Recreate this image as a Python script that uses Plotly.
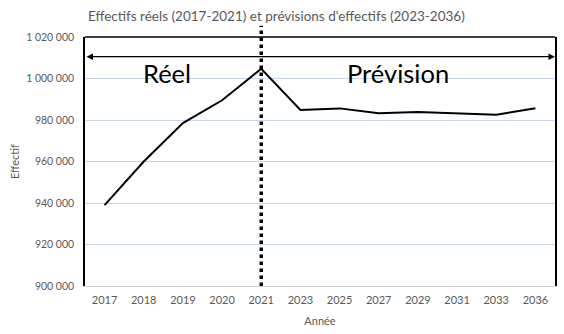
import plotly.graph_objects as go

years = ["2017", "2018", "2019", "2020", "2021", "2023", "2025", "2027", "2029", "2031", "2033", "2036"]
effectifs = [939000, 960000, 978500, 989500, 1004700, 984800, 985600, 983300, 983800, 983100, 982500, 985700]
y_ticks = [900000, 920000, 940000, 960000, 980000, 1000000, 1020000]
y_tick_labels = ["900 000", "920 000", "940 000", "960 000", "980 000", "1 000 000", "1 020 000"]
arrow_level = 1010500
split_year = "2021"

grey = "#595959"
font_family = "Lato, 'Open Sans', sans-serif"

fig = go.Figure()
fig.add_trace(go.Scatter(x=years, y=effectifs, mode="lines",
                         line=dict(color="black", width=2), showlegend=False, hoverinfo="skip"))

fig.update_layout(
    width=564, height=334,
    margin=dict(l=85, r=9, t=37, b=48),
    paper_bgcolor="white", plot_bgcolor="white",
    title=dict(text="Effectifs réels (2017-2021) et prévisions d'effectifs (2023-2036)",
               x=0.49, xanchor="center", y=0.952, yanchor="middle",
               font=dict(family=font_family, size=13.5, color=grey)),
    xaxis=dict(type="category", range=[-0.5, 11.5], showgrid=False, automargin=False,
               showline=True, linecolor="#d0d0d0", linewidth=1,
               ticks="outside", ticklen=4, tickcolor="rgba(0,0,0,0)",
               tickfont=dict(family=font_family, size=11, color=grey),
               title=dict(text="Année", font=dict(family=font_family, size=11, color=grey), standoff=12)),
    yaxis=dict(range=[900000, 1020000], tickvals=y_ticks, ticktext=y_tick_labels, automargin=False,
               showgrid=True, gridcolor="#c9d6ea", gridwidth=1, zeroline=False,
               showline=True, mirror=True, linecolor="black", linewidth=1.5,
               ticks="outside", ticklen=7, tickcolor="rgba(0,0,0,0)",
               tickfont=dict(family=font_family, size=10.5, color=grey)),
)

# y axis title
fig.add_annotation(xref="paper", yref="paper", x=-0.15, y=0.5, xanchor="center", yanchor="middle",
                   text="Effectif", textangle=-90, showarrow=False,
                   font=dict(family=font_family, size=11, color=grey))

# top border
fig.add_shape(type="line", xref="paper", yref="paper", x0=0, x1=1, y0=1, y1=1,
              line=dict(color="black", width=1.5))
# dotted vertical split line
fig.add_shape(type="line", xref="x", yref="paper", x0=years.index(split_year), x1=years.index(split_year),
              y0=0, y1=1.045, line=dict(color="black", width=3.5, dash="dot"))

# double-headed arrow
fig.add_annotation(xref="x domain", yref="y", axref="x domain", ayref="y",
                   x=1, y=arrow_level, ax=0, ay=arrow_level, text="", showarrow=True,
                   arrowhead=2, startarrowhead=2, arrowside="end+start",
                   arrowsize=1, startarrowsize=1, arrowwidth=1.3, arrowcolor="black")

fig.add_annotation(x=1.6, y=1002500, xref="x", yref="y", text="Réel", showarrow=False,
                   font=dict(family=font_family, size=25.5, color="black"))
fig.add_annotation(x=7.5, y=1002500, xref="x", yref="y", text="Prévision", showarrow=False,
                   font=dict(family=font_family, size=25.5, color="black"))

fig.write_html("out.html")
